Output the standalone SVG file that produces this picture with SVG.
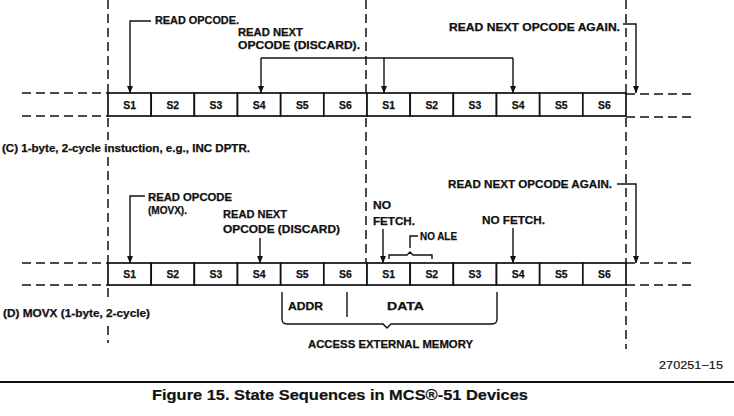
<svg xmlns="http://www.w3.org/2000/svg" width="734" height="416" viewBox="0 0 734 416">
<defs>
<marker id="ah" markerUnits="userSpaceOnUse" markerWidth="8" markerHeight="7" refX="7" refY="3.25" orient="auto">
<path d="M0,0.3 L7.5,3.25 L0,6.2 z" fill="#111"/>
</marker>
<style>
text{font-family:"Liberation Sans",Arial,Helvetica,sans-serif;font-weight:bold;font-size:10.4px;fill:#111;stroke:#111;stroke-width:0.25}
.c{text-anchor:middle}
.reg{font-weight:normal;font-size:10.5px;stroke-width:0.15}
.cap{font-size:15px;stroke-width:0.2}
.box{fill:#fff;stroke:#111;stroke-width:1.7}
.ln{fill:none;stroke:#111;stroke-width:1.4}
.arr{fill:none;stroke:#111;stroke-width:1.4;marker-end:url(#ah)}
.dash{fill:none;stroke:#111;stroke-width:1.5;stroke-dasharray:9 5}
</style>
</defs>
<rect width="734" height="416" fill="#fff"/>

<g id="guides">
<path class="dash" d="M108,0 V93 M108,118 V140 M108,157 V263 M108,288 V302 M108,326 V343"/>
<path class="dash" d="M366,0 V93 M366,118 V263"/>
<path class="dash" d="M626,0 V93 M626,118 V263 M626,288 V349"/>
<path class="dash" d="M22,93 H108 M22,116 H108 M626,94 H694 M626,117 H694"/>
<path class="dash" d="M22,263 H108 M22,285 H108 M626,263 H694 M626,285 H694"/>
</g>

<g id="row-c">
<g id="c-s1"><rect class="box" x="108" y="93" width="43.17" height="23"/><text class="c" x="129.6" y="108.8">S1</text></g>
<g id="c-s2"><rect class="box" x="151.17" y="93" width="43.17" height="23"/><text class="c" x="172.8" y="108.8">S2</text></g>
<g id="c-s3"><rect class="box" x="194.33" y="93" width="43.17" height="23"/><text class="c" x="215.9" y="108.8">S3</text></g>
<g id="c-s4"><rect class="box" x="237.5" y="93" width="43.17" height="23"/><text class="c" x="259.1" y="108.8">S4</text></g>
<g id="c-s5"><rect class="box" x="280.67" y="93" width="43.17" height="23"/><text class="c" x="302.3" y="108.8">S5</text></g>
<g id="c-s6"><rect class="box" x="323.83" y="93" width="43.17" height="23"/><text class="c" x="345.4" y="108.8">S6</text></g>
<g id="c-s1b"><rect class="box" x="367" y="93" width="43.17" height="23"/><text class="c" x="388.6" y="108.8">S1</text></g>
<g id="c-s2b"><rect class="box" x="410.17" y="93" width="43.17" height="23"/><text class="c" x="431.8" y="108.8">S2</text></g>
<g id="c-s3b"><rect class="box" x="453.33" y="93" width="43.17" height="23"/><text class="c" x="474.9" y="108.8">S3</text></g>
<g id="c-s4b"><rect class="box" x="496.5" y="93" width="43.17" height="23"/><text class="c" x="518.1" y="108.8">S4</text></g>
<g id="c-s5b"><rect class="box" x="539.67" y="93" width="43.17" height="23"/><text class="c" x="561.3" y="108.8">S5</text></g>
<g id="c-s6b"><rect class="box" x="582.83" y="93" width="43.17" height="23"/><text class="c" x="604.4" y="108.8">S6</text></g>
</g>

<g id="row-d">
<g id="d-s1"><rect class="box" x="108" y="263" width="43.17" height="22"/><text class="c" x="129.6" y="278.3">S1</text></g>
<g id="d-s2"><rect class="box" x="151.17" y="263" width="43.17" height="22"/><text class="c" x="172.8" y="278.3">S2</text></g>
<g id="d-s3"><rect class="box" x="194.33" y="263" width="43.17" height="22"/><text class="c" x="215.9" y="278.3">S3</text></g>
<g id="d-s4"><rect class="box" x="237.5" y="263" width="43.17" height="22"/><text class="c" x="259.1" y="278.3">S4</text></g>
<g id="d-s5"><rect class="box" x="280.67" y="263" width="43.17" height="22"/><text class="c" x="302.3" y="278.3">S5</text></g>
<g id="d-s6"><rect class="box" x="323.83" y="263" width="43.17" height="22"/><text class="c" x="345.4" y="278.3">S6</text></g>
<g id="d-s1b"><rect class="box" x="367" y="263" width="43.17" height="22"/><text class="c" x="388.6" y="278.3">S1</text></g>
<g id="d-s2b"><rect class="box" x="410.17" y="263" width="43.17" height="22"/><text class="c" x="431.8" y="278.3">S2</text></g>
<g id="d-s3b"><rect class="box" x="453.33" y="263" width="43.17" height="22"/><text class="c" x="474.9" y="278.3">S3</text></g>
<g id="d-s4b"><rect class="box" x="496.5" y="263" width="43.17" height="22"/><text class="c" x="518.1" y="278.3">S4</text></g>
<g id="d-s5b"><rect class="box" x="539.67" y="263" width="43.17" height="22"/><text class="c" x="561.3" y="278.3">S5</text></g>
<g id="d-s6b"><rect class="box" x="582.83" y="263" width="43.17" height="22"/><text class="c" x="604.4" y="278.3">S6</text></g>
</g>

<g id="connectors">
<path class="arr" d="M151,21 H130 V93"/>
<path class="ln" d="M261,58 H513"/>
<path class="arr" d="M261,58 V93"/>
<path class="arr" d="M384,58 V93"/>
<path class="arr" d="M513,58 V93"/>
<path class="arr" d="M623,24 H636 V93"/>
<path class="arr" d="M145,196 H130 V263"/>
<path class="arr" d="M260,238 V263"/>
<path class="arr" d="M383,229 V263"/>
<path class="arr" d="M513,228 V263"/>
<path class="arr" d="M617,184 H636 V263"/>
<path class="ln" d="M410,248 V236 H418"/>
<path class="ln" d="M389,259 V255 H407 L410,252 L413,255 H432 V259"/>
<path class="ln" d="M282,292 V319 Q282,324 287,324 H383 L387,328 L391,324 H492 Q497,324 497,319 V292"/>
<path class="ln" d="M347,292 V317"/>
</g>

<g id="labels-c">
<text x="155" y="24" textLength="84" lengthAdjust="spacingAndGlyphs">READ OPCODE.</text>
<text x="238" y="36" textLength="65" lengthAdjust="spacingAndGlyphs">READ NEXT</text>
<text x="238" y="48.5" textLength="122" lengthAdjust="spacingAndGlyphs">OPCODE (DISCARD).</text>
<text x="449" y="31" textLength="171" lengthAdjust="spacingAndGlyphs">READ NEXT OPCODE  AGAIN.</text>
<text x="2" y="152" font-size="10.4" textLength="248" lengthAdjust="spacingAndGlyphs">(C) 1-byte, 2-cycle instuction, e.g., INC DPTR.</text>
</g>

<g id="labels-d">
<text x="148" y="201" textLength="84" lengthAdjust="spacingAndGlyphs">READ OPCODE</text>
<text x="148" y="214" textLength="39" lengthAdjust="spacingAndGlyphs">(MOVX).</text>
<text x="223" y="218" textLength="64" lengthAdjust="spacingAndGlyphs">READ NEXT</text>
<text x="223" y="233" textLength="117" lengthAdjust="spacingAndGlyphs">OPCODE (DISCARD)</text>
<text x="448" y="188" textLength="164" lengthAdjust="spacingAndGlyphs">READ NEXT OPCODE AGAIN.</text>
<text x="373" y="209" textLength="18" lengthAdjust="spacingAndGlyphs">NO</text>
<text x="373" y="225" textLength="42" lengthAdjust="spacingAndGlyphs">FETCH.</text>
<text x="420" y="240" textLength="37" lengthAdjust="spacingAndGlyphs">NO ALE</text>
<text x="482" y="224" textLength="63" lengthAdjust="spacingAndGlyphs">NO FETCH.</text>
<text x="288" y="310" textLength="35" lengthAdjust="spacingAndGlyphs">ADDR</text>
<text x="387" y="310" textLength="37" lengthAdjust="spacingAndGlyphs">DATA</text>
<text x="308" y="348" textLength="165" lengthAdjust="spacingAndGlyphs">ACCESS EXTERNAL MEMORY</text>
<text x="3" y="317" font-size="10.4" textLength="147" lengthAdjust="spacingAndGlyphs">(D) MOVX (1-byte, 2-cycle)</text>
</g>

<g id="footer">
<text class="reg" x="659" y="369" textLength="64" lengthAdjust="spacingAndGlyphs">270251−15</text>
<path d="M0,382 H734" stroke="#111" stroke-width="2.2"/>
<text class="cap" x="152" y="400" textLength="376" lengthAdjust="spacingAndGlyphs">Figure 15. State Sequences in MCS®-51 Devices</text>
</g>
</svg>
